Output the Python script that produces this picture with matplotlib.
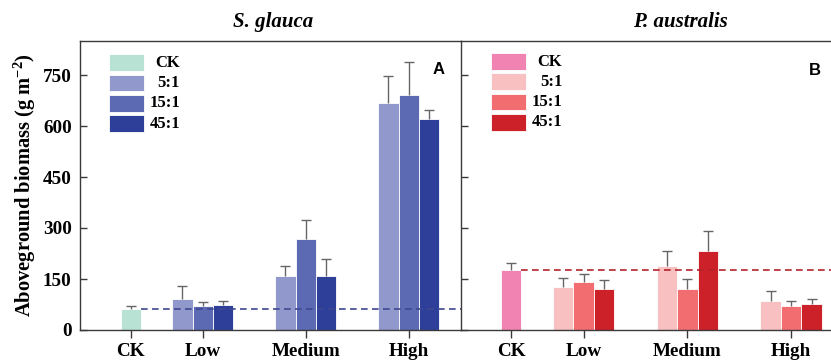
import matplotlib
matplotlib.use("Agg")
import matplotlib.pyplot as plt
from matplotlib.patches import Rectangle
import numpy as np

# ---------------- data ----------------
groups = ["CK", "Low", "Medium", "High"]
group_pos = [0.0, 0.7, 1.7, 2.7]
ratios = ["5:1", "15:1", "45:1"]
legend_labels = ["CK", "5:1", "15:1", "45:1"]

# S. glauca
sg_ck_mean = 62
sg_ck_err = 8
sg_mean_5 = [92, 158, 668]
sg_mean_15 = [71, 267, 692]
sg_mean_45 = [75, 160, 622]
sg_err_5 = [38, 29, 80]
sg_err_15 = [11, 58, 96]
sg_err_45 = [10, 49, 26]

# P. australis
pa_ck_mean = 176
pa_ck_err = 21
pa_mean_5 = [127, 188, 86]
pa_mean_15 = [140, 120, 71]
pa_mean_45 = [122, 233, 76]
pa_err_5 = [26, 45, 29]
pa_err_15 = [25, 29, 13]
pa_err_45 = [26, 58, 14]

y_ticks = [0, 150, 300, 450, 600, 750]

sg_colors = ["#b8e2d4", "#9098cc", "#5c69b3", "#2d3f99"]
pa_colors = ["#f183b3", "#f9c0c1", "#f16d6f", "#cd2129"]

# ---------------- style ----------------
plt.rcParams["font.family"] = ["Liberation Serif", "DejaVu Serif"]
plt.rcParams["font.weight"] = "bold"
plt.rcParams["mathtext.fontset"] = "custom"
plt.rcParams["mathtext.rm"] = "Liberation Serif:bold"
plt.rcParams["mathtext.bf"] = "Liberation Serif:bold"
plt.rcParams["mathtext.it"] = "Liberation Serif:bold:italic"
plt.rcParams["mathtext.default"] = "bf"

W, H = 831, 360
fig = plt.figure(figsize=(W / 100, H / 100), dpi=100)

axL = fig.add_axes([80 / W, 30 / H, 381 / W, 289 / H])
axR = fig.add_axes([461 / W, 30 / H, 370 / W, 289 / H])

spine_col = "#3a3a3a"
bar_w = 0.197
err_col = "#666666"


def up_err(ax, x, m, e):
    x = np.atleast_1d(x)
    m = np.atleast_1d(m)
    e = np.atleast_1d(e)
    ax.vlines(x, m, m + e, colors=err_col, linewidth=1.0, zorder=3)
    ax.plot(x, m + e, linestyle="none", marker="_", markersize=6.5,
            markeredgewidth=1.0, color=err_col, zorder=3)


def draw_panel(ax, ck_mean, ck_err, means, errs, colors, dash_col, xlim):
    ax.bar(group_pos[0], ck_mean, width=bar_w, color=colors[0],
           edgecolor="white", linewidth=0.6, zorder=2)
    up_err(ax, group_pos[0], ck_mean, ck_err)
    for i, (m, e) in enumerate(zip(means, errs)):
        x = np.array(group_pos[1:]) + (i - 1) * bar_w
        ax.bar(x, m, width=bar_w, color=colors[i + 1],
               edgecolor="white", linewidth=0.6, zorder=2)
        up_err(ax, x, m, e)
    ax.hlines(ck_mean, group_pos[0] + bar_w / 2, xlim[1], colors=dash_col,
              linestyles=(0, (4, 2.6)), linewidth=1.2, zorder=4)
    ax.set_xlim(*xlim)
    ax.set_ylim(0, 850)
    ax.set_yticks(y_ticks)
    ax.set_xticks(group_pos)
    ax.set_xticklabels(groups)
    ax.tick_params(axis="y", direction="in", length=5, width=1.0,
                   color=spine_col, labelsize=13.8, pad=6)
    ax.tick_params(axis="x", direction="out", length=6, width=1.0,
                   color=spine_col, labelsize=13.8, pad=3.5)
    for s in ax.spines.values():
        s.set_color(spine_col)
        s.set_linewidth(1.0)


draw_panel(axL, sg_ck_mean, sg_ck_err,
           [sg_mean_5, sg_mean_15, sg_mean_45],
           [sg_err_5, sg_err_15, sg_err_45],
           sg_colors, "#3f4791", (-0.492, 3.207))
draw_panel(axR, pa_ck_mean, pa_ck_err,
           [pa_mean_5, pa_mean_15, pa_mean_45],
           [pa_err_5, pa_err_15, pa_err_45],
           pa_colors, "#b3222a", (-0.483, 3.085))

axL.spines["right"].set_visible(False)
axR.spines["right"].set_visible(False)
axR.tick_params(axis="y", labelleft=False)
for lab in axL.get_yticklabels() + axL.get_xticklabels() + axR.get_xticklabels():
    lab.set_fontweight("bold")


def draw_legend(ax, colors, x0, pw, ph, rows, xtext):
    for c, yc, lab in zip(colors, rows, legend_labels):
        ax.add_patch(Rectangle((x0, yc - ph / 2), pw, ph, transform=ax.transAxes,
                               facecolor=c, edgecolor="white", linewidth=0.6,
                               clip_on=False, zorder=5))
        ax.text(xtext, yc, lab, transform=ax.transAxes, ha="right", va="center",
                fontsize=12, fontweight="bold", zorder=5)


draw_legend(axL, sg_colors, 0.0761, 0.091, 0.058,
            [0.925, 0.855, 0.785, 0.714], 0.2625)
draw_legend(axR, pa_colors, 0.081, 0.094, 0.058,
            [0.929, 0.859, 0.789, 0.718], 0.274)

axL.text(0.94, 0.903, "A", transform=axL.transAxes, ha="center", va="center",
         fontsize=12, fontweight="bold", family=["Liberation Sans", "DejaVu Sans"])
axR.text(0.957, 0.898, "B", transform=axR.transAxes, ha="center", va="center",
         fontsize=12, fontweight="bold", family=["Liberation Sans", "DejaVu Sans"])

fig.text(273 / W, 1 - 22 / H, "S. glauca", ha="center", va="center",
         fontsize=15, fontweight="bold", fontstyle="italic")
fig.text(680 / W, 1 - 22 / H, "P. australis", ha="center", va="center",
         fontsize=15, fontweight="bold", fontstyle="italic")

fig.text(25 / W, 1 - 185 / H, "Aboveground biomass (g m$^{-2}$)",
         rotation=90, ha="center", va="center", fontsize=14.8, fontweight="bold")

fig.savefig("out.png", dpi=100)
